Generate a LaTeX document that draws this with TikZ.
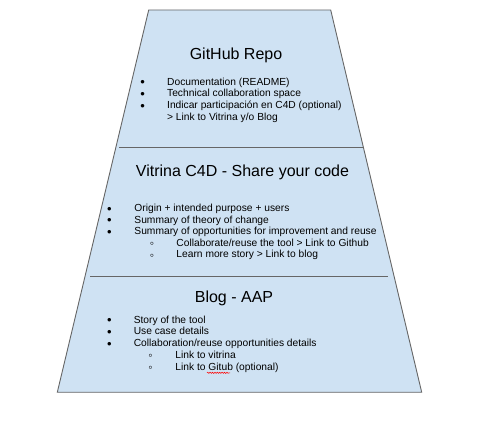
\documentclass[tikz,border=0pt]{standalone}
\usepackage{fontspec}
\setmainfont{Liberation Sans}
\usepackage{tikz}
\usetikzlibrary{decorations.pathmorphing}

\definecolor{boxblue}{HTML}{CFE2F3}
\definecolor{edgegray}{HTML}{666666}

\begin{document}
\begin{tikzpicture}[x=1pt, y=-1pt, line width=0.9pt,
  title/.style={font=\fontsize{16}{19}\selectfont, anchor=base, inner sep=0pt},
  item/.style={font=\fontsize{10.25}{12}\selectfont, anchor=base west, inner sep=0pt},
  fullmark/.style={font=\fontsize{13}{14}\selectfont, anchor=base, inner sep=0pt, yshift=-1.6pt},
  openmark/.style={font=\fontsize{12}{14}\selectfont, anchor=base, inner sep=0pt, yshift=-1.4pt}]

\useasboundingbox (0,0) rectangle (482,427);

% draw trapezoid
\filldraw[color=edgegray, fill=boxblue] (148.7,10) -- (330.7,10) -- (421.7,392.3) -- (57.3,392.3) -- cycle;

% draw dividers
\draw[color=edgegray] (119,147) -- (363,147);
\draw[color=edgegray] (90,276.8) -- (388,276.8);

% draw GitHub section
\node[title] (ghtitle) at (236,59.3) {GitHub Repo};
\node[fullmark] (ghdot1) at (142.7,85.2) {•};
\node[fullmark] (ghdot2) at (142.7,97) {•};
\node[fullmark] (ghdot3) at (142.7,108.8) {•};
\node[item] (gh1) at (166.7,85.2) {Documentation (README)};
\node[item] (gh2) at (166.7,97) {Technical collaboration space};
\node[item] (gh3) at (166.7,108.8) {Indicar participación en C4D (optional)};
\node[item] (gh4) at (166.7,120.6) {> Link to Vitrina y/o Blog};

% draw Vitrina section
\node[title] (vttitle) at (242.5,176.9) {Vitrina C4D - Share your code};
\node[fullmark] (vtdot1) at (109.3,211.6) {•};
\node[fullmark] (vtdot2) at (109.3,223.2) {•};
\node[fullmark] (vtdot3) at (109.3,234.8) {•};
\node[openmark] (vtdot4) at (152,246.4) {◦};
\node[openmark] (vtdot5) at (152,258) {◦};
\node[item] (vt1) at (134,211.6) {Origin + intended purpose + users};
\node[item] (vt2) at (134,223.2) {Summary of theory of change};
\node[item] (vt3) at (134,234.8) {Summary of opportunities for improvement and reuse};
\node[item] (vt4) at (176,246.4) {Collaborate/reuse the tool > Link to Github};
\node[item] (vt5) at (176,258) {Learn more story > Link to blog};

% draw Blog section
\node[title] (bltitle) at (234,302.3) {Blog - AAP};
\node[fullmark] (bldot1) at (109.3,323.2) {•};
\node[fullmark] (bldot2) at (109.3,335) {•};
\node[fullmark] (bldot3) at (109.3,346.8) {•};
\node[openmark] (bldot4) at (150.5,358.5) {◦};
\node[openmark] (bldot5) at (150.5,370.2) {◦};
\node[item] (bl1) at (133.3,323.2) {Story of the tool};
\node[item] (bl2) at (133.3,335) {Use case details};
\node[item] (bl3) at (133.3,346.8) {Collaboration/reuse opportunities details};
\node[item] (bl4) at (175,358.5) {Link to vitrina};
\node[item] (bl5) at (175,370.2) {Link to Gitub (optional)};

% draw spelling mark
\draw[color=red, line width=0.5pt, decorate, decoration={snake, amplitude=0.6pt, segment length=2.4pt}] (207,372.8) -- (230,372.8);

\end{tikzpicture}
\end{document}
